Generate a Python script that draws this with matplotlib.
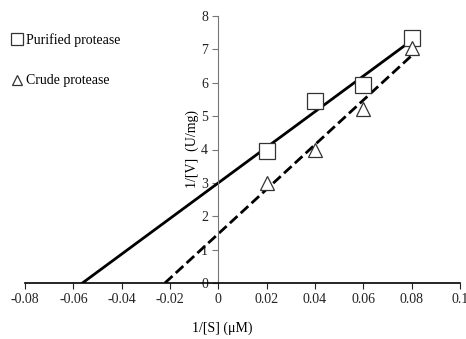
import numpy as np
import matplotlib.pyplot as plt

plt.rcParams["font.family"] = ["Liberation Serif", "DejaVu Serif"]

S_INV = [0.02, 0.04, 0.06, 0.08]
PURIFIED = [3.95, 5.45, 5.92, 7.35]
CRUDE = [3.0, 4.0, 5.2, 7.05]

X_TICKS = [-0.08, -0.06, -0.04, -0.02, 0, 0.02, 0.04, 0.06, 0.08, 0.1]
X_LABELS = ["-0.08", "-0.06", "-0.04", "-0.02", "0", "0.02", "0.04", "0.06", "0.08", "0.1"]
Y_TICKS = list(range(0, 9))

fig = plt.figure(figsize=(4.66, 3.39), dpi=100)
ax = fig.add_axes([25 / 466, 56 / 339, 435 / 466, 267 / 339])

x = np.array(S_INV)

# Lineweaver-Burk trend lines, drawn from the x-intercept to the last point
for ys, ls in [(PURIFIED, "-"), (CRUDE, "--")]:
    m, b = np.polyfit(x, ys, 1)
    xs = np.array([-b / m, x.max()])
    ax.plot(xs, m * xs + b, color="black", lw=2, ls=ls, zorder=2)

ax.plot(S_INV, PURIFIED, ls="none", marker="s", ms=11, mfc="white", mec="#333333",
        mew=0.9, zorder=3, label="Purified protease")
ax.plot(S_INV, CRUDE, ls="none", marker="^", ms=10, mfc="white", mec="#333333",
        mew=0.9, zorder=3, label="Crude protease")

ax.set_xlim(-0.08, 0.1)
ax.set_ylim(0, 8)
ax.spines["left"].set_position(("data", 0))
ax.spines["left"].set_color("#777777")
ax.spines["right"].set_visible(False)
ax.spines["top"].set_visible(False)
ax.spines["bottom"].set_linewidth(1.2)

ax.set_xticks(X_TICKS)
ax.set_xticklabels(X_LABELS)
ax.set_yticks(Y_TICKS)
ax.tick_params(axis="both", labelsize=10, colors="#222222", length=4)
ax.tick_params(axis="y", color="#777777")

ax.text(-0.0107, 4, "1/[V]  (U/mg)", rotation=90, ha="center", va="center", fontsize=10)
fig.text(222 / 466, 1 - 328 / 339, "1/[S] (\u03bcM)", ha="center", va="center", fontsize=10)

ax.legend(loc="upper left", bbox_to_anchor=(-0.04, 0.955), frameon=False, fontsize=10,
          handlelength=0.6, handletextpad=0.3, labelspacing=1.95, borderaxespad=0,
          markerscale=0.75)

fig.savefig("out.png", dpi=100)
